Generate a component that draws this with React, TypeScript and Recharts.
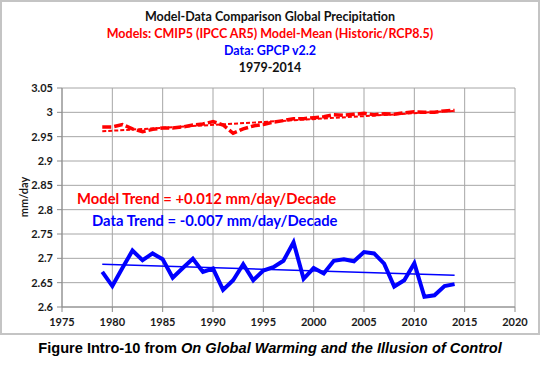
import { LineChart, Line, XAxis, YAxis, CartesianGrid } from "recharts";

const years = [
  1979, 1980, 1981, 1982, 1983, 1984, 1985, 1986, 1987, 1988, 1989, 1990,
  1991, 1992, 1993, 1994, 1995, 1996, 1997, 1998, 1999, 2000, 2001, 2002,
  2003, 2004, 2005, 2006, 2007, 2008, 2009, 2010, 2011, 2012, 2013, 2014,
];

// CMIP5 model mean (mm/day)
const modelValues = [
  2.97, 2.97, 2.975, 2.966, 2.96, 2.965, 2.968, 2.968, 2.97, 2.974, 2.976, 2.981,
  2.974, 2.957, 2.966, 2.972, 2.975, 2.98, 2.983, 2.987, 2.987, 2.989, 2.991, 2.995,
  2.994, 2.996, 2.998, 2.995, 2.997, 2.996, 2.999, 3.001, 3.0, 3.0, 3.003, 3.004,
];

// GPCP v2.2 (mm/day)
const dataValues = [
  2.672, 2.643, 2.68, 2.716, 2.696, 2.71, 2.698, 2.66, 2.68, 2.699, 2.672, 2.679,
  2.635, 2.655, 2.688, 2.655, 2.675, 2.682, 2.695, 2.733, 2.658, 2.68, 2.669, 2.695,
  2.698, 2.694, 2.713, 2.71, 2.689, 2.642, 2.655, 2.69, 2.621, 2.624, 2.643, 2.647,
];

const trendYears = [1979, 2014];
const modelTrendValues = [2.961, 3.003];
const dataTrendValues = [2.688, 2.665];

const xTicks = [1975, 1980, 1985, 1990, 1995, 2000, 2005, 2010, 2015, 2020];
const yTicks = [2.6, 2.65, 2.7, 2.75, 2.8, 2.85, 2.9, 2.95, 3.0, 3.05];

const modelRows = years.map((year, i) => ({ year, v: modelValues[i] }));
const dataRows = years.map((year, i) => ({ year, v: dataValues[i] }));
const modelTrendRows = trendYears.map((year, i) => ({ year, v: modelTrendValues[i] }));
const dataTrendRows = trendYears.map((year, i) => ({ year, v: dataTrendValues[i] }));

const FONT = "Lato, 'Open Sans', sans-serif";

function XTick({ x, y, payload }: any) {
  return (
    <text x={x} y={y + 11} textAnchor="middle" fontSize={11} fontWeight={700} fill="#1a1a1a" fontFamily={FONT}>
      {payload.value}
    </text>
  );
}

function YTick({ x, y, payload }: any) {
  return (
    <text x={x} y={y + 4} textAnchor="end" fontSize={11} fontWeight={700} fill="#1a1a1a" fontFamily={FONT}>
      {String(Number(Number(payload.value).toFixed(2)))}
    </text>
  );
}

export default function App() {
  return (
    <div style={{ position: "absolute", left: 0, top: 0, width: 540, height: 365, background: "#fff", fontFamily: FONT }}>
      <div style={{ position: "absolute", left: 0, top: 0, width: 536, height: 331, border: "2px solid #c4c4c4" }} />
      <div style={{ position: "absolute", left: 0, top: 8, width: 540, textAlign: "center", fontSize: 12.5, fontWeight: 700, lineHeight: "17px" }}>
        <div style={{ color: "#111" }}>Model-Data Comparison Global Precipitation</div>
        <div style={{ color: "#ff0000" }}>Models: CMIP5 (IPCC AR5) Model-Mean (Historic/RCP8.5)</div>
        <div style={{ color: "#0000ff" }}>Data: GPCP v2.2</div>
        <div style={{ color: "#111" }}>1979-2014</div>
      </div>
      <div style={{ position: "absolute", left: 0, top: 0 }}>
        <LineChart width={540} height={335} margin={{ top: 88, right: 25, bottom: 8, left: 22 }}>
          <CartesianGrid stroke="#a6a6a6" strokeWidth={1} />
          <XAxis
            type="number"
            dataKey="year"
            domain={[1975, 2020]}
            ticks={xTicks}
            allowDuplicatedCategory={false}
            tick={<XTick />}
            tickSize={5}
            tickMargin={3}
            axisLine={{ stroke: "#8c8c8c" }}
            tickLine={{ stroke: "#8c8c8c" }}
            height={20}
          />
          <YAxis
            type="number"
            domain={[2.6, 3.05]}
            ticks={yTicks}
            tick={<YTick />}
            tickSize={5}
            tickMargin={4}
            axisLine={{ stroke: "#8c8c8c" }}
            tickLine={{ stroke: "#8c8c8c" }}
            width={40}
          />
          <Line data={modelTrendRows} dataKey="v" stroke="#ff0000" strokeWidth={2} strokeDasharray="4 2" dot={false} isAnimationActive={false} />
          <Line data={modelRows} dataKey="v" stroke="#ff0000" strokeWidth={3.5} strokeDasharray="9 3" dot={false} isAnimationActive={false} />
          <Line data={dataTrendRows} dataKey="v" stroke="#0000ff" strokeWidth={1.5} dot={false} isAnimationActive={false} />
          <Line data={dataRows} dataKey="v" stroke="#0000ff" strokeWidth={4} dot={false} isAnimationActive={false} />
        </LineChart>
      </div>
      <svg style={{ position: "absolute", left: 0, top: 0 }} width={60} height={335}>
        <text x={23} y={197} transform="rotate(-90 23 197)" textAnchor="middle" dominantBaseline="central" fontSize={11} fontWeight={700} fill="#1a1a1a" fontFamily={FONT}>
          mm/day
        </text>
      </svg>
      <div style={{ position: "absolute", left: 77, top: 189, fontSize: 14.8, fontWeight: 700, color: "#ff0000", whiteSpace: "nowrap" }}>
        Model Trend = +0.012 mm/day/Decade
      </div>
      <div style={{ position: "absolute", left: 92, top: 211, fontSize: 14.8, fontWeight: 700, color: "#0000ff", whiteSpace: "nowrap" }}>
        Data Trend = -0.007 mm/day/Decade
      </div>
      <div style={{ position: "absolute", left: 0, top: 340, width: 540, textAlign: "center", fontSize: 14.6, fontWeight: 700, color: "#000", fontFamily: "'Liberation Sans', Arial, sans-serif", whiteSpace: "nowrap" }}>
        Figure Intro-10 from <i>On Global Warming and the Illusion of Control</i>
      </div>
    </div>
  );
}
